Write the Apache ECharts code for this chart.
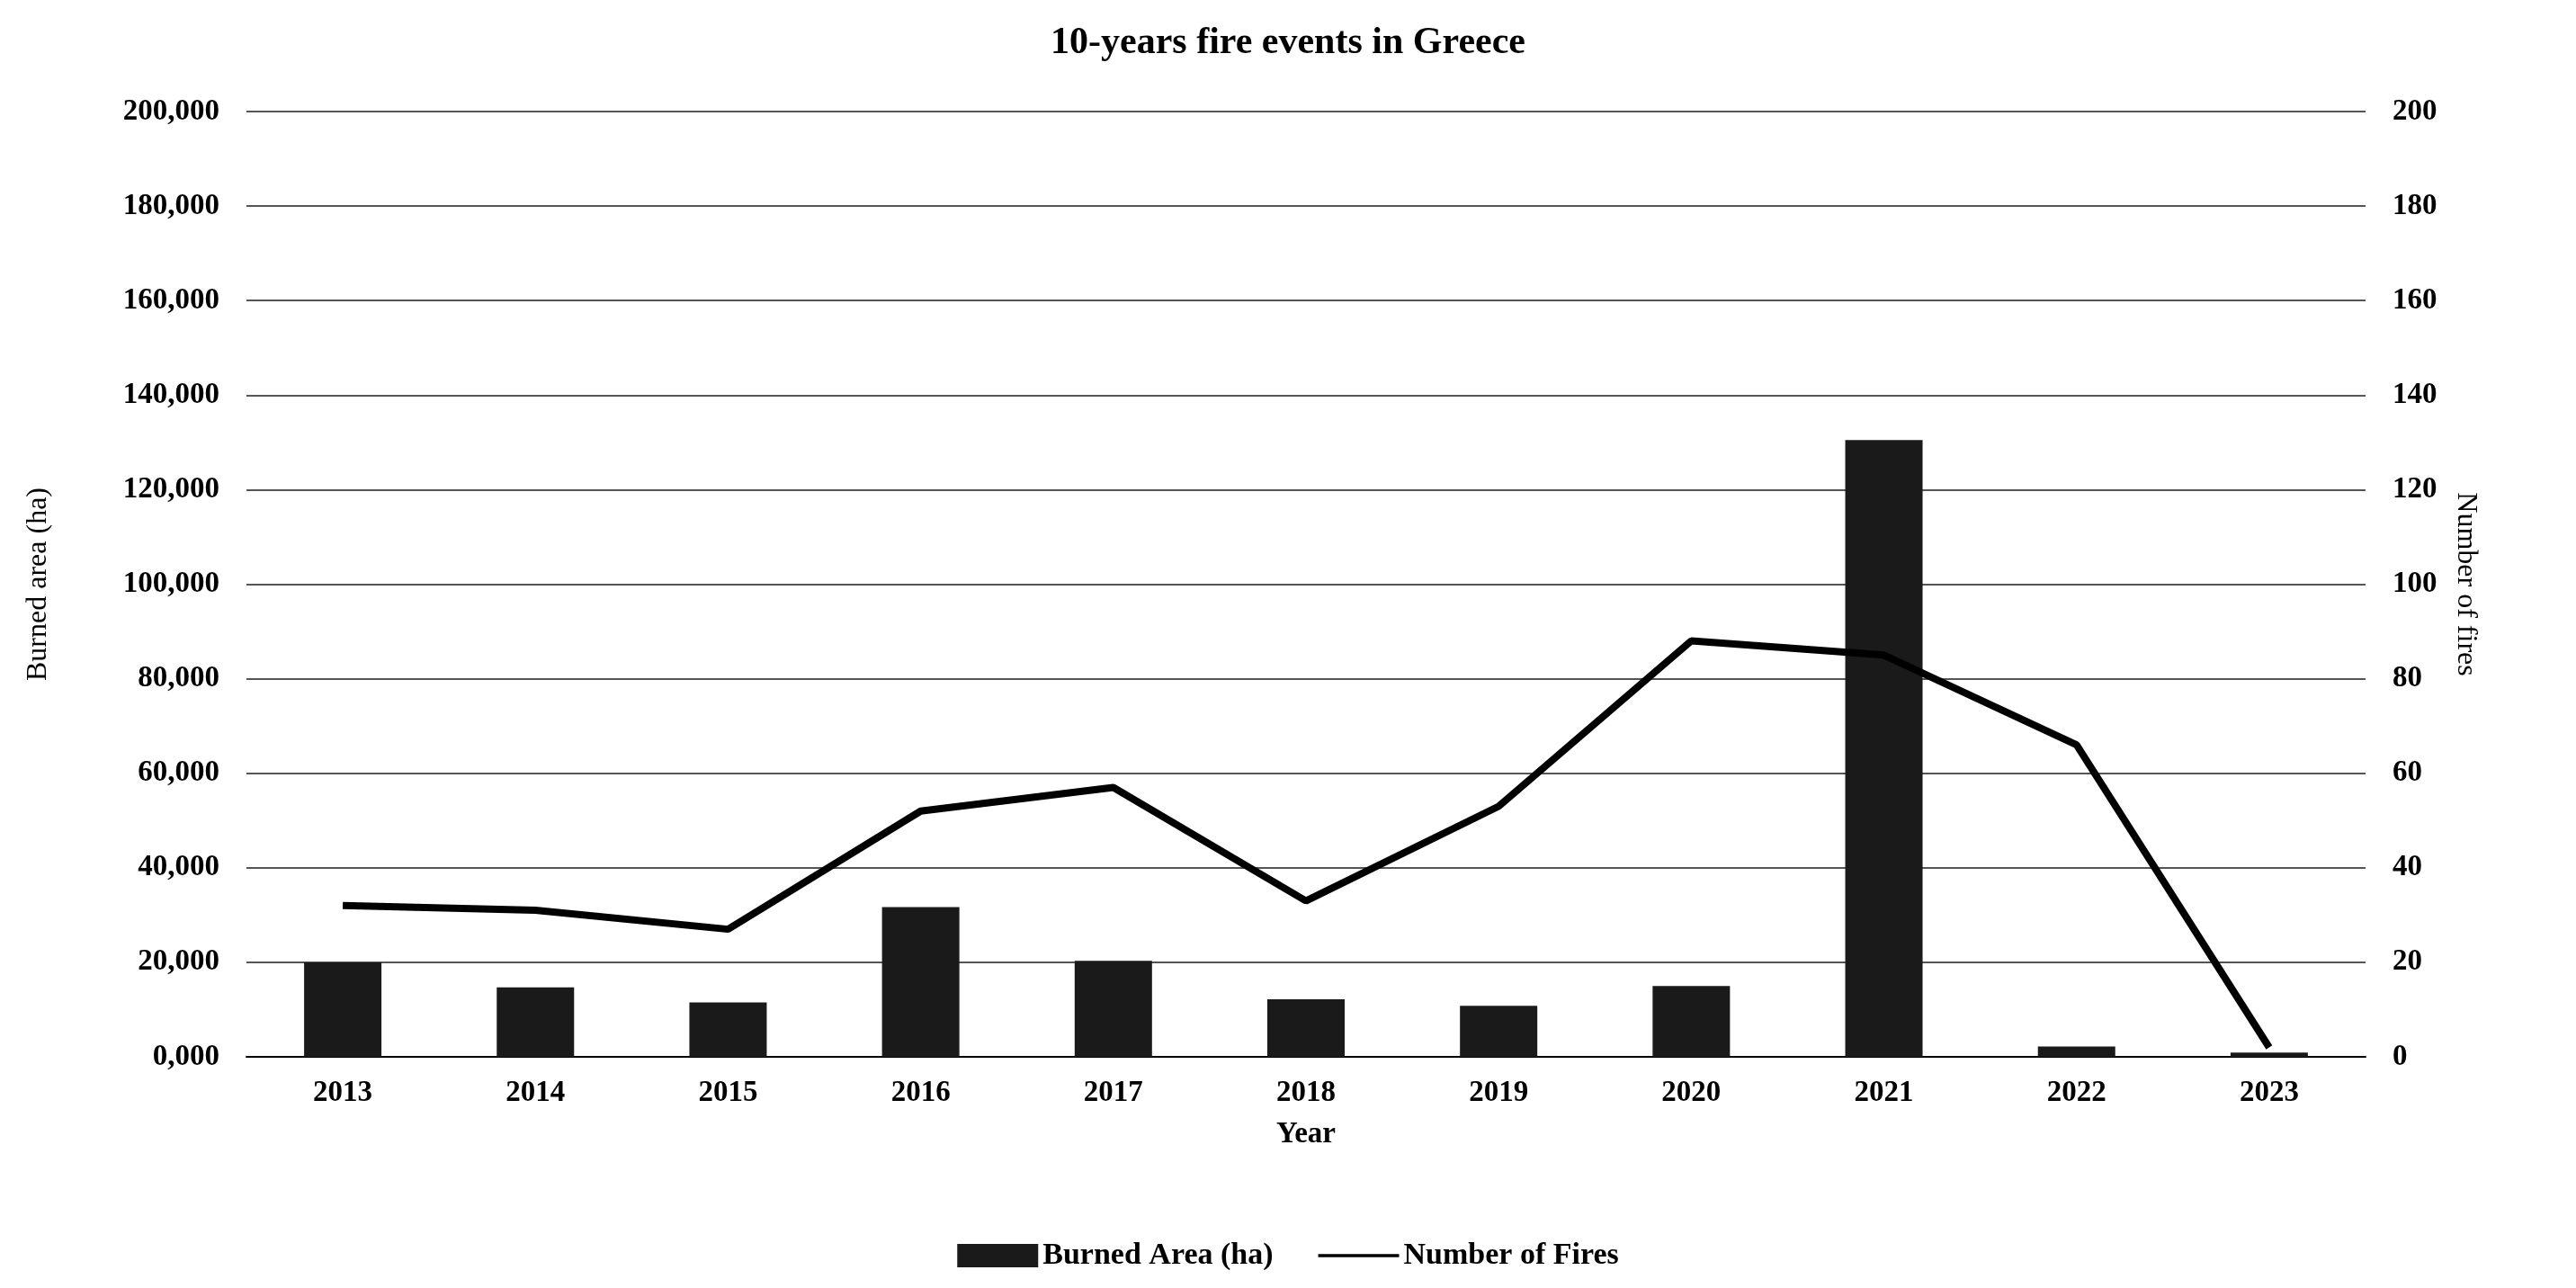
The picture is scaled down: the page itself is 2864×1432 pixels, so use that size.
<!DOCTYPE html>
<html><head><meta charset="utf-8">
<script src="https://cdn.jsdelivr.net/npm/echarts@6/dist/echarts.min.js"></script>
<style>html,body{margin:0;padding:0;background:#fff}#c{width:2864px;height:1432px}</style>
</head><body><div id="c"></div>
<script>
const years = ['2013','2014','2015','2016','2017','2018','2019','2020','2021','2022','2023'];
const burnedArea = [20000,14700,11500,31700,20300,12200,10800,15000,130500,2200,900];
const numFires = [32,31,27,52,57,33,53,88,85,66,2];
const F = 'Liberation Serif';
const chart = echarts.init(document.getElementById('c'));
const lbl = {fontFamily:F,fontWeight:'bold',fontSize:33,color:'#000'};
chart.setOption({
  animation:false,
  title:{text:'10-years fire events in Greece',left:'center',top:22,textStyle:{fontFamily:F,fontWeight:'bold',fontSize:42,color:'#000'}},
  grid:{left:274,right:234,top:124,bottom:257},
  legend:{bottom:14,itemGap:50,itemWidth:90,itemHeight:26,textStyle:{fontFamily:F,fontWeight:'bold',fontSize:34,color:'#000'},
    data:[{name:'Burned Area (ha)',icon:'rect'},{name:'Number of Fires',icon:'path://M0,11L100,11L100,15L0,15Z'}]},
  xAxis:{type:'category',data:years,name:'Year',nameLocation:'middle',nameGap:70,nameTextStyle:lbl,
    axisLine:{lineStyle:{color:'#000',width:2}},axisTick:{show:false},axisLabel:Object.assign({margin:24},lbl)},
  yAxis:[
    {type:'value',min:0,max:200000,interval:20000,name:'Burned area (ha)',nameLocation:'middle',nameGap:215,
     nameTextStyle:Object.assign({},lbl,{fontWeight:'normal',fontSize:32}),
     axisLabel:Object.assign({margin:30,formatter:v=>v===0?'0,000':v.toLocaleString('en-US')},lbl),
     splitLine:{lineStyle:{color:'#555',width:2}},axisLine:{show:false},axisTick:{show:false}},
    {type:'value',min:0,max:200,interval:20,name:'Number of fires',nameLocation:'middle',nameGap:95,nameRotate:-90,
     nameTextStyle:Object.assign({},lbl,{fontWeight:'normal',fontSize:32}),
     axisLabel:Object.assign({margin:30},lbl),splitLine:{show:false},axisLine:{show:false},axisTick:{show:false}}
  ],
  series:[
    {name:'Burned Area (ha)',type:'bar',data:burnedArea,barWidth:86,itemStyle:{color:'#1a1a1a'}},
    {name:'Number of Fires',type:'line',yAxisIndex:1,data:numFires,symbol:'none',lineStyle:{color:'#000',width:8},itemStyle:{color:'#000'}}
  ]
});
</script></body></html>
